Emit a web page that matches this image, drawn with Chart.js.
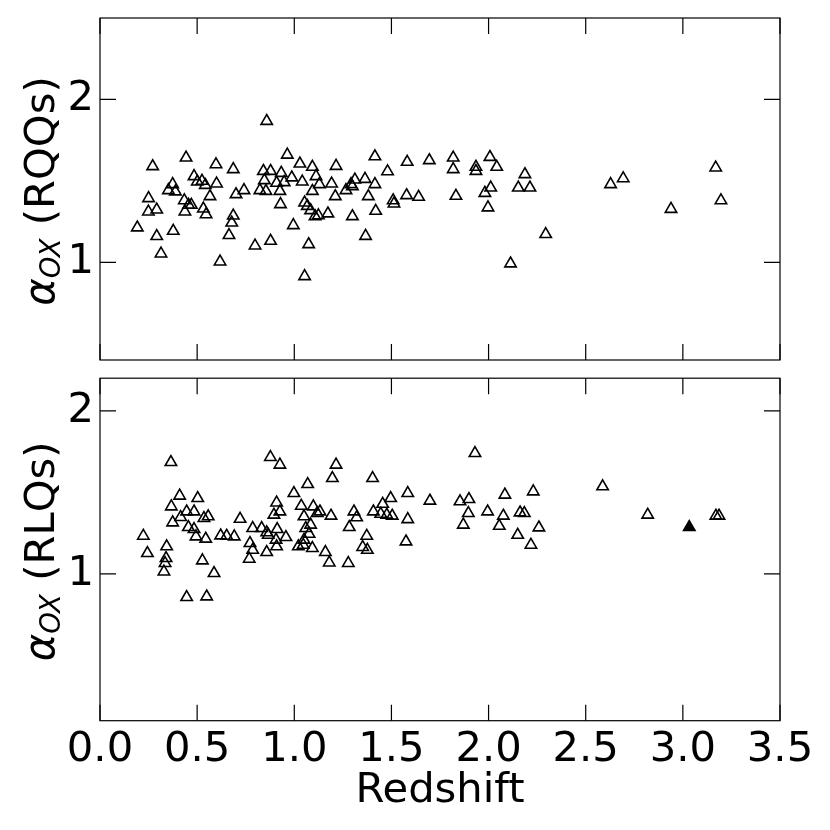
<!DOCTYPE html>
<html>
<head>
<meta charset="utf-8">
<script src="https://cdn.jsdelivr.net/npm/chart.js@4"></script>
<style>
  body { margin: 0; background: #fff; }
  #wrap { position: relative; width: 830px; height: 830px; }
  canvas { position: absolute; left: 0; }
</style>
</head>
<body>
<div id="wrap">
  <canvas id="top" width="830" height="370" style="top:0"></canvas>
  <canvas id="bottom" width="830" height="460" style="top:370px"></canvas>
</div>
<script>
// Datos: redshift y alpha_OX
const rqqZ = [
  0.858, 0.271, 0.443, 0.597, 0.686, 0.964, 1.029, 1.093, 1.112, 1.129,
  0.841, 0.878, 0.933, 0.987, 1.041, 0.846, 0.909, 0.948, 0.823, 0.854,
  0.926, 1.093, 0.929, 1.053, 1.067, 1.084, 1.124, 1.107, 0.995, 1.074,
  1.053, 0.878, 0.798, 0.618, 0.664, 0.678, 0.686, 0.700, 0.741, 0.600,
  0.566, 0.532, 0.546, 0.484, 0.501, 0.525, 0.542, 0.374, 0.352, 0.388,
  0.434, 0.456, 0.470, 0.437, 0.250, 0.249, 0.292, 0.192, 0.292, 0.377,
  0.314,
  1.215, 1.192, 1.312, 1.364, 1.292, 1.299, 1.266, 1.415, 1.211, 1.381,
  1.415, 1.480, 1.581, 1.695, 1.818, 1.818, 1.935, 1.935, 2.007, 2.042,
  2.187, 2.153, 2.213, 2.011, 1.981, 1.997, 1.832, 1.578, 1.640, 1.509,
  1.513, 1.173, 1.299, 1.419, 1.367, 2.113, 2.294,
  2.628, 2.693, 2.939, 3.169, 3.196
];
const rqqAlpha = [
  1.867, 1.589, 1.642, 1.601, 1.571, 1.660, 1.605, 1.585, 1.528, 1.479,
  1.560, 1.560, 1.548, 1.520, 1.495, 1.503, 1.487, 1.491, 1.442, 1.437,
  1.437, 1.437, 1.356, 1.366, 1.345, 1.319, 1.288, 1.282, 1.227, 1.110,
  0.914, 1.131, 1.102, 1.004, 1.166, 1.243, 1.286, 1.417, 1.442, 1.483,
  1.405, 1.329, 1.294, 1.528, 1.495, 1.499, 1.474, 1.479, 1.442, 1.434,
  1.380, 1.352, 1.352, 1.311, 1.393, 1.311, 1.323, 1.213, 1.160, 1.192,
  1.053,
  1.591, 1.483, 1.507, 1.511, 1.479, 1.466, 1.442, 1.479, 1.405, 1.405,
  1.650, 1.558, 1.616, 1.626, 1.642, 1.571, 1.585, 1.560, 1.646, 1.585,
  1.540, 1.458, 1.458, 1.458, 1.425, 1.336, 1.407, 1.411, 1.401, 1.380,
  1.360, 1.299, 1.282, 1.315, 1.161, 0.992, 1.172,
  1.479, 1.515, 1.327, 1.581, 1.380
];

const rlqZ = [
  0.365, 0.877, 0.926, 1.069, 0.998, 0.410, 0.503, 0.367, 0.446, 0.484,
  0.415, 0.374, 0.535, 0.557, 0.455, 0.484, 0.494, 0.544, 0.223, 0.244,
  0.343, 0.340, 0.335, 0.329, 0.527, 0.587, 0.446, 0.549, 0.621, 0.652,
  0.691, 0.721, 0.786, 0.832, 0.858, 0.912, 0.957, 0.772, 0.786, 0.768,
  0.858, 0.909, 0.906, 0.866, 0.909, 0.895, 0.926, 1.036, 1.050, 1.098,
  1.132, 1.118, 1.084, 1.059, 1.076, 1.050, 1.021, 1.046, 1.093, 1.160,
  1.215, 1.196, 1.403, 1.584, 1.496, 1.455, 1.698, 1.930, 1.853, 1.899,
  2.084, 2.230, 1.189, 1.307, 1.321, 1.407, 1.445, 1.476, 1.504, 1.584,
  1.283, 1.373, 1.352, 1.376, 1.575, 1.180, 1.278, 1.896, 1.870, 1.995,
  2.076, 2.055, 2.162, 2.184, 2.150, 2.218, 2.259,
  2.587, 2.819, 3.170, 3.186
];
const rlqAlpha = [
  1.685, 1.716, 1.669, 1.550, 1.495, 1.479, 1.464, 1.413, 1.382, 1.382,
  1.348, 1.315, 1.342, 1.352, 1.286, 1.274, 1.229, 1.215, 1.233, 1.127,
  1.168, 1.096, 1.066, 1.014, 1.082, 1.004, 0.857, 0.861, 1.235, 1.233,
  1.229, 1.337, 1.280, 1.280, 1.254, 1.274, 1.225, 1.188, 1.147, 1.092,
  1.133, 1.168, 1.209, 1.239, 1.437, 1.362, 1.382, 1.417, 1.352, 1.413,
  1.382, 1.372, 1.301, 1.280, 1.245, 1.209, 1.168, 1.178, 1.158, 1.133,
  1.669, 1.587, 1.587, 1.495, 1.464, 1.429, 1.448, 1.740, 1.444, 1.458,
  1.485, 1.505, 1.356, 1.382, 1.346, 1.382, 1.368, 1.362, 1.356, 1.335,
  1.286, 1.233, 1.164, 1.147, 1.198, 1.069, 1.066, 1.372, 1.301, 1.382,
  1.356, 1.294, 1.376, 1.372, 1.239, 1.178, 1.284,
  1.536, 1.362, 1.356, 1.356
];
// punto relleno (panel inferior)
const rlqFilledZ = [3.033];
const rlqFilledAlpha = [1.286];

const xTicks = [0.0, 0.5, 1.0, 1.5, 2.0, 2.5, 3.0, 3.5];
const yTicks = [1, 2];

const FONT = 'DejaVu Sans';
const FS = 41.7;
const TICK = 16;

const toPoints = (xs, ys) => xs.map((v, i) => ({ x: v, y: ys[i] }));

// Marco, ticks hacia adentro y etiqueta del eje Y con subíndice
const framePlugin = {
  id: 'frame',
  afterDraw(chart, args, opts) {
    const { ctx, chartArea: a, scales: { x, y } } = chart;
    ctx.save();
    ctx.strokeStyle = '#000';
    ctx.lineWidth = 1.2;
    ctx.strokeRect(a.left, a.top, a.width, a.height);
    ctx.beginPath();
    x.ticks.forEach(t => {
      const px = x.getPixelForValue(t.value);
      ctx.moveTo(px, a.bottom); ctx.lineTo(px, a.bottom - TICK);
      ctx.moveTo(px, a.top); ctx.lineTo(px, a.top + TICK);
    });
    y.ticks.forEach(t => {
      const py = y.getPixelForValue(t.value);
      ctx.moveTo(a.left, py); ctx.lineTo(a.left + TICK, py);
      ctx.moveTo(a.right, py); ctx.lineTo(a.right - TICK, py);
    });
    ctx.stroke();

    // α_OX (texto)
    const parts = [
      { t: 'α', f: `italic ${FS}px "${FONT}"`, dy: 0 },
      { t: 'OX', f: `italic ${FS * 0.66}px "${FONT}"`, dy: 6 },
      { t: ' ' + opts.label, f: `${FS}px "${FONT}"`, dy: 0 }
    ];
    let total = 0;
    parts.forEach(p => { ctx.font = p.f; p.w = ctx.measureText(p.t).width; total += p.w; });
    ctx.translate(54, (a.top + a.bottom) / 2 + 2);
    ctx.rotate(-Math.PI / 2);
    ctx.fillStyle = '#000';
    ctx.textBaseline = 'alphabetic';
    let cx = -total / 2;
    parts.forEach(p => { ctx.font = p.f; ctx.fillText(p.t, cx, p.dy); cx += p.w; });
    ctx.restore();
  }
};

function makeOptions(label, yMin, yMax, showX, padTop, xHeight) {
  return {
    responsive: false,
    animation: false,
    layout: { padding: { top: padTop, right: 50, left: 0, bottom: 0 } },
    plugins: {
      legend: { display: false },
      tooltip: { enabled: false },
      frame: { label: label }
    },
    scales: {
      x: {
        type: 'linear',
        min: 0, max: 3.5,
        afterBuildTicks: s => { s.ticks = xTicks.map(v => ({ value: v })); },
        afterFit: s => { s.height = xHeight; s.paddingLeft = 0; s.paddingRight = 0; },
        grid: { display: false, drawTicks: false },
        border: { display: false },
        ticks: {
          display: showX,
          padding: 4,
          color: '#000',
          font: { family: FONT, size: FS },
          maxRotation: 0,
          callback: v => v.toFixed(1)
        },
        title: {
          display: showX,
          text: 'Redshift',
          color: '#000',
          font: { family: FONT, size: FS },
          padding: { top: 0, bottom: 14 }
        }
      },
      y: {
        type: 'linear',
        min: yMin, max: yMax,
        afterBuildTicks: s => { s.ticks = yTicks.map(v => ({ value: v })); },
        afterFit: s => { s.width = 100; s.paddingTop = 0; s.paddingBottom = 0; },
        grid: { display: false, drawTicks: false },
        border: { display: false },
        ticks: {
          padding: 6,
          color: '#000',
          font: { family: FONT, size: FS },
          callback: v => String(v)
        }
      }
    }
  };
}

const openStyle = {
  pointStyle: 'triangle',
  pointRadius: 6.6,
  pointBorderWidth: 1.6,
  borderColor: '#000',
  backgroundColor: 'rgba(0,0,0,0)',
  showLine: false
};

new Chart(document.getElementById('top'), {
  type: 'scatter',
  data: {
    datasets: [
      Object.assign({ label: 'RQQs', data: toPoints(rqqZ, rqqAlpha) }, openStyle)
    ]
  },
  options: makeOptions('(RQQs)', 0.4, 2.5, false, 18, 10),
  plugins: [framePlugin]
});

new Chart(document.getElementById('bottom'), {
  type: 'scatter',
  data: {
    datasets: [
      Object.assign({ label: 'RLQs', data: toPoints(rlqZ, rlqAlpha) }, openStyle),
      Object.assign({}, openStyle, {
        label: 'RLQs (relleno)',
        data: toPoints(rlqFilledZ, rlqFilledAlpha),
        backgroundColor: '#000'
      })
    ]
  },
  options: makeOptions('(RLQs)', 0.1, 2.2, true, 8, 109.3),
  plugins: [framePlugin]
});
</script>
</body>
</html>
